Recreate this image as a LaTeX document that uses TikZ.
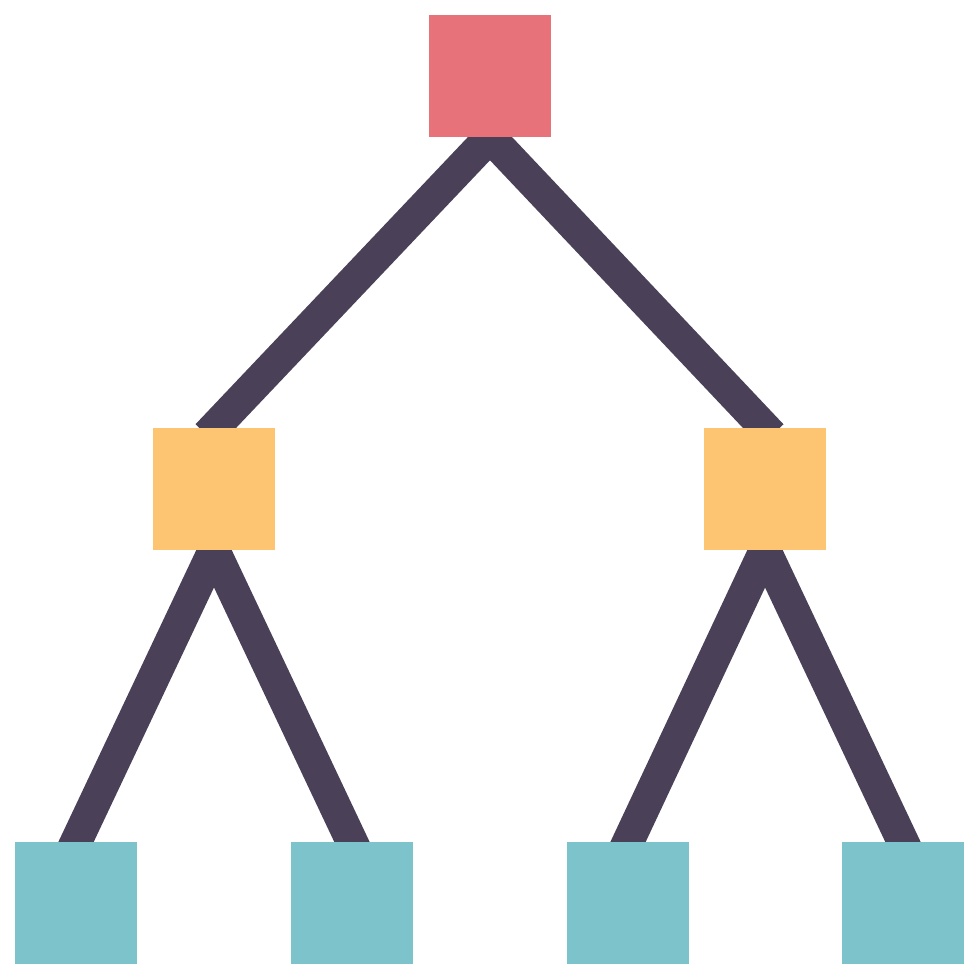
\documentclass[tikz,border=0pt]{standalone}
\usepackage{tikz}
\usetikzlibrary{positioning,backgrounds}

\definecolor{rootRed}{HTML}{E8727A}
\definecolor{branchOrange}{HTML}{FDC572}
\definecolor{leafTeal}{HTML}{7CC3CB}
\definecolor{linkDark}{HTML}{4A4159}

\begin{document}
\begin{tikzpicture}[
    box/.style={rectangle, minimum size=2.44cm, inner sep=0pt, outer sep=0pt},
    link/.style={draw=linkDark, line width=0.64cm, line join=miter, shorten <=-0.2cm, shorten >=-0.2cm}
]
    \useasboundingbox (-9.8,1.52) rectangle (9.8,-18.08);
    % Square: root
    \node[box, fill=rootRed] (root) at (0,0) {};
    % Squares: branches
    \node[box, fill=branchOrange, below left=5.82cm and 3.08cm of root] (left) {};
    \node[box, fill=branchOrange, below right=5.82cm and 3.06cm of root] (right) {};
    % Squares: leaves
    \node[box, fill=leafTeal, below left=5.84cm and 0.32cm of left] (leftLeft) {};
    \node[box, fill=leafTeal, below right=5.84cm and 0.32cm of left] (leftRight) {};
    \node[box, fill=leafTeal, below left=5.84cm and 0.30cm of right] (rightLeft) {};
    \node[box, fill=leafTeal, below right=5.84cm and 0.32cm of right] (rightRight) {};
    % Links
    \begin{scope}[on background layer]
    \draw[link] (left.north) -- (root.south) -- (right.north);
    \draw[link] (leftLeft.north) -- (left.south) -- (leftRight.north);
    \draw[link] (rightLeft.north) -- (right.south) -- (rightRight.north);
    \end{scope}
\end{tikzpicture}
\end{document}
